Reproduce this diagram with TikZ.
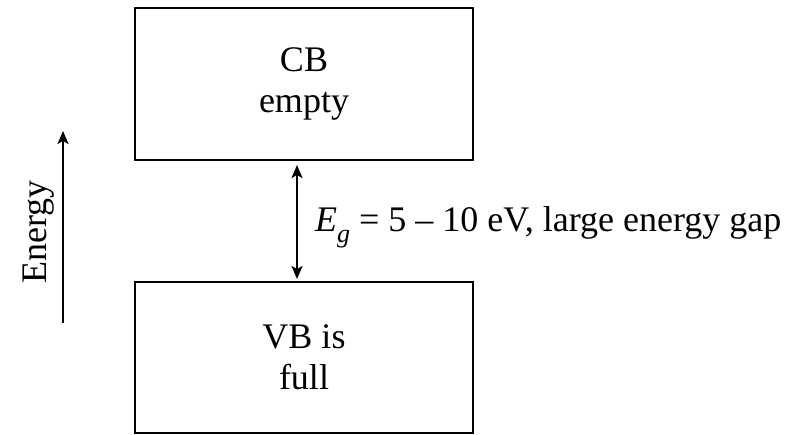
\documentclass[tikz,border=0pt]{standalone}
\usepackage{fontspec}
\setmainfont{Liberation Serif}
\usetikzlibrary{arrows.meta}
\begin{document}
\begin{tikzpicture}[x=1pt,y=-1pt,
  band/.style={draw, line width=2.4pt, minimum width=338pt, inner sep=0pt, align=center,
    font=\fontsize{36}{41}\selectfont},
  tip/.style={Stealth[length=13pt,width=11pt,inset=3pt]},
  arr/.style={line width=2pt, -{Stealth[length=13pt,width=11pt,inset=3pt]}},
  darr/.style={line width=2pt, {Stealth[length=13pt,width=11pt,inset=3pt]}-{Stealth[length=13pt,width=11pt,inset=3pt]}},
  lbl/.style={font=\fontsize{36}{41}\selectfont, inner sep=0pt}]
\useasboundingbox (0,0) rectangle (810,435);
\node[band, minimum height=152pt] (cb) at (304,84) {CB\\empty};
\node[band, minimum height=151pt] (vb) at (304,357.5) {VB is\\full};
\coordinate (gt) at (297,165);
\coordinate (gb) at (297,279);
\draw[darr] (gt) -- (gb);
\node[lbl, anchor=base west] (eg) at (315,232) {\itshape E\raisebox{-0.28em}{\fontsize{26}{26}\selectfont g}\upshape{} = 5 – 10 eV, large energy gap};
\coordinate (ea) at (63,323);
\coordinate (eb) at (63,131);
\draw[arr] (ea) -- (eb);
\node[lbl, rotate=90] (en) at (39,232) {Energy};
\end{tikzpicture}
\end{document}
